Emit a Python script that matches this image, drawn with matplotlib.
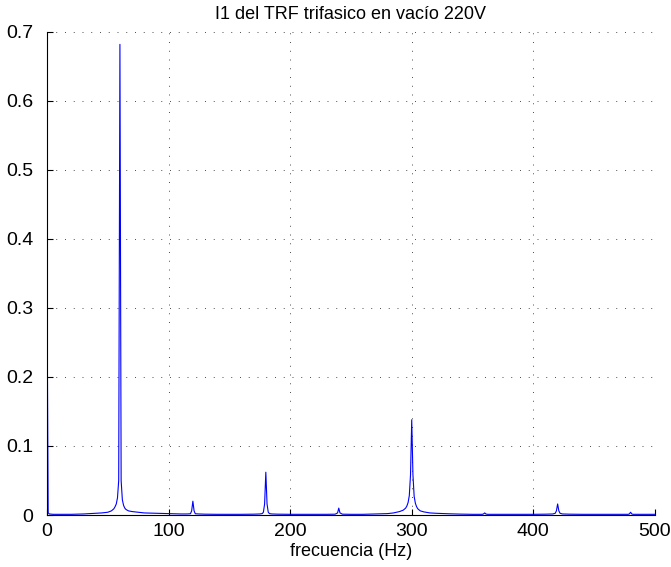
import matplotlib
matplotlib.use("Agg")
import matplotlib.pyplot as plt

plt.rcParams['font.family'] = ['Liberation Sans', 'DejaVu Sans']

# Magnitude spectrum of phase current I1 (no-load test, 220 V)
freq_hz = [0, 1, 2, 5, 10, 20, 30, 35, 40, 45, 50, 53, 55, 56, 57, 58, 59, 60,
           61, 62, 63, 64, 65, 67, 70, 75, 80, 90, 100, 110, 115, 118, 119, 120,
           121, 122, 125, 130, 140, 150, 160, 170, 175, 177, 178, 179, 180, 181,
           182, 183, 185, 190, 200, 210, 220, 230, 237, 239, 240, 241, 243, 250,
           260, 270, 280, 285, 290, 293, 295, 296, 297, 298, 299, 300, 301, 302,
           303, 304, 305, 307, 310, 315, 320, 330, 340, 350, 358, 359, 360, 361,
           362, 370, 380, 390, 400, 410, 416, 418, 419, 420, 421, 422, 424, 430,
           440, 450, 460, 470, 478, 479, 480, 481, 482, 490, 500]
magnitude = [0.331, 0.003, 0.0015, 0.001, 0.001, 0.001, 0.0015, 0.002, 0.0025,
             0.003, 0.004, 0.006, 0.009, 0.012, 0.016, 0.025, 0.05, 0.682,
             0.05, 0.022, 0.014, 0.010, 0.008, 0.006, 0.005, 0.004, 0.003,
             0.0025, 0.002, 0.0015, 0.0015, 0.0018, 0.006, 0.020,
             0.006, 0.0018, 0.0015, 0.0012, 0.001, 0.001, 0.001, 0.0012, 0.0015,
             0.002, 0.004, 0.016, 0.062, 0.016,
             0.004, 0.002, 0.0015, 0.0012, 0.001, 0.001, 0.001, 0.001, 0.0012,
             0.003, 0.010, 0.003, 0.0012, 0.001,
             0.001, 0.0015, 0.002, 0.003, 0.005, 0.007, 0.010, 0.013, 0.018,
             0.028, 0.058, 0.138, 0.058, 0.027,
             0.017, 0.012, 0.009, 0.006, 0.0045, 0.003, 0.0025, 0.0018, 0.0013,
             0.001, 0.001, 0.0015, 0.003, 0.0015,
             0.001, 0.001, 0.001, 0.001, 0.001, 0.0012, 0.0015, 0.0025, 0.006,
             0.016, 0.006, 0.0025, 0.0015, 0.0012,
             0.001, 0.001, 0.001, 0.001, 0.001, 0.0015, 0.004, 0.0015, 0.001,
             0.001, 0.001]

x_ticks = [0, 100, 200, 300, 400, 500]
x_tick_labels = ['0', '100', '200', '300', '400', '500']
y_ticks = [0, 0.1, 0.2, 0.3, 0.4, 0.5, 0.6, 0.7]
y_tick_labels = ['0', '0.1', '0.2', '0.3', '0.4', '0.5', '0.6', '0.7']

fig = plt.figure(figsize=(6.71, 5.67), dpi=100)
ax = fig.add_axes([0.070, 0.0917, 0.906, 0.852])

ax.plot(freq_hz, magnitude, color=(0, 0, 1), linewidth=0.8)

ax.set_xlim(0, 500)
ax.set_ylim(0, 0.7)
ax.set_xticks(x_ticks)
ax.set_xticklabels(x_tick_labels)
ax.set_yticks(y_ticks)
ax.set_yticklabels(y_tick_labels)

ax.tick_params(direction='in', length=4, width=0.8, labelsize=14)
ax.tick_params(axis='x', pad=6)
ax.tick_params(axis='y', pad=10)
ax.grid(True, color='black', linestyle=(0, (1, 8)), linewidth=0.7, alpha=0.7)

for side in ('top', 'right'):
    ax.spines[side].set_visible(False)
for side in ('left', 'bottom'):
    ax.spines[side].set_linewidth(0.8)

ax.set_title('I1 del TRF trifasico en vacío 220V', fontsize=13, pad=9)
ax.set_xlabel('frecuencia (Hz)', fontsize=13, labelpad=2)

fig.savefig('out.png', dpi=100)
